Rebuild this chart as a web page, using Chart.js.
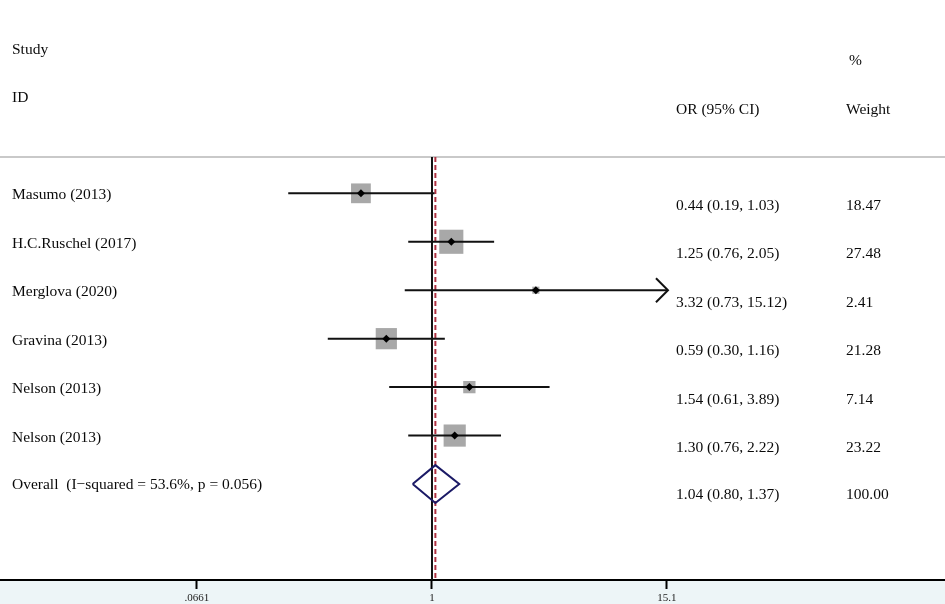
<!DOCTYPE html>
<html><head><meta charset="utf-8">
<script src="https://cdn.jsdelivr.net/npm/chart.js@4.4.1/dist/chart.umd.min.js"></script>
<style>html,body{margin:0;padding:0;background:#fff;} #wrap{width:945px;height:604px;position:relative;}</style>
</head><body><div id="wrap"><canvas id="c"></canvas></div>
<script>
// ---- data ----
const studies = ["Masumo (2013)", "H.C.Ruschel (2017)", "Merglova (2020)", "Gravina (2013)", "Nelson (2013)", "Nelson (2013)"];
const orValues = [0.44, 1.25, 3.32, 0.59, 1.54, 1.30];
const ciLower = [0.19, 0.76, 0.73, 0.30, 0.61, 0.76];
const ciUpper = [1.03, 2.05, 15.12, 1.16, 3.89, 2.22];
const weights = [18.47, 27.48, 2.41, 21.28, 7.14, 23.22];
const overallLabel = "Overall  (I\u2212squared = 53.6%, p = 0.056)";
const overallOR = [1.04];
const overallCI = [0.80, 1.37];
const overallWeight = [100.00];
const tickValues = [0.0661, 1, 15.1];
const tickLabels = [".0661", "1", "15.1"];

// ---- layout constants ----
const FONT = '"Liberation Serif", "Times New Roman", serif';
const Y_MIN = -2.99, Y_MAX = 8.981, RULE_Y = 0.25;
const X_MIN = 0.0068, X_MAX = 375;
const clipHi = tickValues[tickValues.length - 1];
const rows = studies.map((s, i) => i + 1);
const overallRow = studies.length + 1;

const fmt = (o, l, h) => `${o.toFixed(2)} (${l.toFixed(2)}, ${h.toFixed(2)})`;

const datasets = [];
// header rule
datasets.push({type: 'line', data: [{x: X_MIN, y: RULE_Y}, {x: X_MAX, y: RULE_Y}], borderColor: '#c9c9c9', borderWidth: 2, pointRadius: 0, order: 10});
// null line at 1
datasets.push({type: 'line', data: [{x: 1, y: RULE_Y}, {x: 1, y: Y_MAX}], borderColor: '#111', borderWidth: 2, pointRadius: 0, order: 5});
// overall dashed line
datasets.push({type: 'line', data: [{x: overallOR[0], y: RULE_Y}, {x: overallOR[0], y: Y_MAX}], borderColor: '#b03242', borderWidth: 2, borderDash: [5, 3], pointRadius: 0, order: 4});
// weight squares
datasets.push({type: 'scatter', data: orValues.map((v, i) => ({x: v, y: rows[i]})),
  pointStyle: 'rect', pointRadius: weights.map(w => 4.6 * Math.sqrt(w) / 1.4142),
  backgroundColor: '#a8a8a8', borderWidth: 0, order: 3});
// CI lines
orValues.forEach((v, i) => {
  datasets.push({type: 'line', data: [{x: ciLower[i], y: rows[i]}, {x: Math.min(ciUpper[i], clipHi), y: rows[i]}],
    borderColor: '#111', borderWidth: 2, pointRadius: 0, order: 2});
});
// point estimate dots
datasets.push({type: 'scatter', data: orValues.map((v, i) => ({x: v, y: rows[i]})),
  pointStyle: 'rectRot', pointRadius: 4, backgroundColor: '#000', borderWidth: 0, order: 1});
// overall diamond
const dh = 0.39;
datasets.push({type: 'line', data: [
  {x: overallCI[0], y: overallRow}, {x: overallOR[0], y: overallRow - dh},
  {x: overallCI[1], y: overallRow}, {x: overallOR[0], y: overallRow + dh},
  {x: overallCI[0], y: overallRow}],
  borderColor: '#1b1a66', borderWidth: 2, pointRadius: 0, fill: false, order: 0});

const bgPlugin = {
  id: 'bg',
  beforeDraw(chart) {
    const {ctx, width, height, chartArea} = chart;
    ctx.save();
    ctx.fillStyle = '#ffffff';
    ctx.fillRect(0, 0, width, height);
    ctx.fillStyle = '#edf5f7';
    ctx.fillRect(0, chartArea.bottom + 1, width, height - chartArea.bottom - 1);
    ctx.restore();
  }
};

const textPlugin = {
  id: 'texts',
  afterDatasetsDraw(chart) {
    const {ctx, scales: {x, y}} = chart;
    ctx.save();
    ctx.fillStyle = '#0a0a0a';
    ctx.font = '15.5px ' + FONT;
    ctx.textBaseline = 'middle';
    ctx.textAlign = 'left';
    // headers
    ctx.fillText('Study', 12, 50);
    ctx.fillText('ID', 12, 98);
    ctx.fillText('%', 849, 61);
    ctx.fillText('OR (95% CI)', 676, 110);
    ctx.fillText('Weight', 846, 110);
    // rows
    studies.forEach((s, i) => {
      const py = y.getPixelForValue(rows[i]);
      ctx.fillText(s, 12, py + 2);
      ctx.fillText(fmt(orValues[i], ciLower[i], ciUpper[i]), 676, py + 12.5);
      ctx.fillText(weights[i].toFixed(2), 846, py + 12.5);
    });
    const po = y.getPixelForValue(overallRow);
    ctx.fillText(overallLabel, 12, po + 1);
    ctx.fillText(fmt(overallOR[0], overallCI[0], overallCI[1]), 676, po + 11);
    ctx.fillText(overallWeight[0].toFixed(2), 846, po + 11);
    // arrow for clipped CIs
    ctx.strokeStyle = '#111';
    ctx.lineWidth = 2;
    ciUpper.forEach((h, i) => {
      if (h > clipHi) {
        const tx = x.getPixelForValue(clipHi), ty = y.getPixelForValue(rows[i]);
        ctx.beginPath();
        ctx.moveTo(tx - 11, ty - 12);
        ctx.lineTo(tx + 1, ty);
        ctx.lineTo(tx - 11, ty + 12);
        ctx.stroke();
      }
    });
    ctx.restore();
  }
};

new Chart(document.getElementById('c'), {
  data: {datasets},
  options: {
    responsive: true, maintainAspectRatio: false, animation: false,
    layout: {padding: 0, autoPadding: false},
    plugins: {legend: {display: false}, tooltip: {enabled: false}},
    elements: {line: {tension: 0}},
    scales: {
      x: {
        type: 'logarithmic', min: X_MIN, max: X_MAX, position: 'bottom',
        afterBuildTicks: s => { s.ticks = tickValues.map(v => ({value: v})); },
        afterFit: s => { s.height = 24; },
        ticks: {autoSkip: false, maxRotation: 0, minRotation: 0, padding: 3, color: '#222',
          font: {family: FONT, size: 11}, callback: (v, i) => tickLabels[i]},
        grid: {drawOnChartArea: false, drawTicks: true, tickLength: 9, tickColor: '#000', tickWidth: 2},
        border: {display: true, color: '#000', width: 2}
      },
      y: {type: 'linear', min: Y_MIN, max: Y_MAX, reverse: true, display: false}
    }
  },
  plugins: [bgPlugin, textPlugin]
});
</script>
</body></html>
